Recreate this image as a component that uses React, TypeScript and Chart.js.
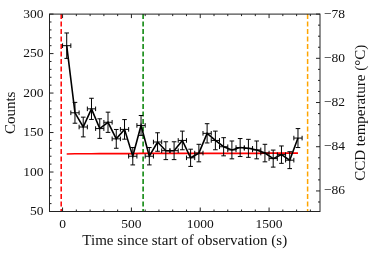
import React, { useEffect, useRef } from "react";
import { Chart, registerables } from "chart.js";
Chart.register(...registerables);

// ---- data ----
const timeBins = [30, 90, 150, 210, 270, 330, 390, 450, 510, 570, 630, 690, 750, 810, 870, 930, 990, 1050, 1110, 1170, 1230, 1290, 1350, 1410, 1470, 1530, 1590, 1650, 1710];
const counts = [260, 175, 157, 180, 155, 163, 142, 154, 120, 159, 120, 138, 127, 127, 140, 118, 124, 149, 140, 132, 128, 131, 130, 128, 124, 117, 122, 115, 143];
const countErr = [16.1, 13.2, 12.5, 13.4, 12.4, 12.8, 11.9, 12.4, 11.0, 12.6, 11.0, 11.7, 11.3, 11.3, 11.8, 10.9, 11.1, 12.2, 11.8, 11.5, 11.3, 11.4, 11.4, 11.3, 11.1, 10.8, 11.0, 10.7, 12.0];
const binHalfWidth = 30;
const temperature = [-84.33, -84.32, -84.32, -84.32, -84.31, -84.31, -84.31, -84.31, -84.31, -84.30, -84.30, -84.30, -84.30, -84.30, -84.30, -84.30, -84.30, -84.30, -84.30, -84.30, -84.30, -84.30, -84.30, -84.30, -84.29, -84.29, -84.29, -84.29, -84.29];
const markerTimes = [-10, 585, 1780];
const markerColors = ["#ff0000", "#008000", "#ffa500"];
const xMajorTicks = [0, 500, 1000, 1500];
const yMajorTicks = [50, 100, 150, 200, 250, 300];
const y1MajorTicks = [-86, -84, -82, -80, -78];
const xTitle = "Time since start of observation (s)";
const yTitle = "Counts";
const y1Title = "CCD temperature (°C)";

const FONT = "'Liberation Serif', serif";
const FS = 13.5;
const TFS = 15;
const INK = "#111";

function range(a: number, b: number, step: number) {
  const out: number[] = [];
  for (let v = a; v <= b + 1e-9; v += step) out.push(Math.round(v * 1000) / 1000);
  return out;
}

const decor = {
  id: "decor",
  beforeDatasetsDraw(chart: any) {
    const { ctx, chartArea: a, scales } = chart;
    const x = scales.x;
    ctx.save();
    ctx.lineWidth = 1.5;
    ctx.setLineDash([5, 2.5]);
    markerTimes.forEach((t, i) => {
      const px = x.getPixelForValue(t);
      ctx.strokeStyle = markerColors[i];
      ctx.beginPath();
      ctx.moveTo(px, a.top);
      ctx.lineTo(px, a.bottom);
      ctx.stroke();
    });
    ctx.restore();
  },
  afterDatasetsDraw(chart: any) {
    const { ctx, scales } = chart;
    const x = scales.x, y = scales.y;
    ctx.save();
    ctx.strokeStyle = "#000";
    ctx.lineWidth = 1;
    const cap = 2.3;
    timeBins.forEach((t, i) => {
      const px = x.getPixelForValue(t);
      const py = y.getPixelForValue(counts[i]);
      const yt = y.getPixelForValue(counts[i] + countErr[i]);
      const yb = y.getPixelForValue(counts[i] - countErr[i]);
      const xl = x.getPixelForValue(t - binHalfWidth);
      const xr = x.getPixelForValue(t + binHalfWidth);
      ctx.beginPath();
      ctx.moveTo(px, yt); ctx.lineTo(px, yb);
      ctx.moveTo(px - cap, yt); ctx.lineTo(px + cap, yt);
      ctx.moveTo(px - cap, yb); ctx.lineTo(px + cap, yb);
      ctx.moveTo(xl, py); ctx.lineTo(xr, py);
      ctx.moveTo(xl, py - cap); ctx.lineTo(xl, py + cap);
      ctx.moveTo(xr, py - cap); ctx.lineTo(xr, py + cap);
      ctx.stroke();
    });
    ctx.restore();
  },
  afterDraw(chart: any) {
    const { ctx, chartArea: a, scales } = chart;
    const x = scales.x, y = scales.y, y1 = scales.y1;
    ctx.save();
    ctx.strokeStyle = "#222";
    ctx.lineWidth = 1;
    ctx.strokeRect(a.left, a.top, a.right - a.left, a.bottom - a.top);
    const maj = 4, mn = 2;
    ctx.beginPath();
    range(0, 1800, 100).forEach((v) => {
      const px = x.getPixelForValue(v);
      if (px < a.left || px > a.right) return;
      const L = v % 500 === 0 ? maj : mn;
      ctx.moveTo(px, a.bottom); ctx.lineTo(px, a.bottom - L);
      ctx.moveTo(px, a.top); ctx.lineTo(px, a.top + L);
    });
    range(50, 300, 10).forEach((v) => {
      const py = y.getPixelForValue(v);
      const L = v % 50 === 0 ? maj : mn;
      ctx.moveTo(a.left, py); ctx.lineTo(a.left + L, py);
    });
    range(-86.5, -78, 0.5).forEach((v) => {
      const py = y1.getPixelForValue(v);
      if (py < a.top - 0.5 || py > a.bottom + 0.5) return;
      const L = Math.abs(v % 2) < 1e-6 ? maj : mn;
      ctx.moveTo(a.right, py); ctx.lineTo(a.right - L, py);
    });
    ctx.stroke();
    ctx.fillStyle = INK;
    ctx.font = `${TFS}px ${FONT}`;
    ctx.textAlign = "center";
    ctx.textBaseline = "middle";
    ctx.translate(361.5, (a.top + a.bottom) / 2);
    ctx.rotate(-Math.PI / 2);
    ctx.fillText(y1Title, 0, 0);
    ctx.restore();
  },
};

export default function App() {
  const ref = useRef<HTMLCanvasElement | null>(null);
  useEffect(() => {
    if (!ref.current) return;
    const chart = new Chart(ref.current, {
      type: "line",
      data: {
        datasets: [
          {
            label: "counts",
            data: timeBins.map((t, i) => ({ x: t, y: counts[i] })),
            borderColor: "#000",
            borderWidth: 1.6,
            pointRadius: 0,
            yAxisID: "y",
            order: 1,
          },
          {
            label: "temperature",
            data: timeBins.map((t, i) => ({ x: t, y: temperature[i] })),
            borderColor: "#ff0000",
            borderWidth: 1.6,
            pointRadius: 0,
            yAxisID: "y1",
            order: 2,
          },
        ],
      },
      options: {
        animation: false,
        responsive: false,
        devicePixelRatio: 1,
        layout: { padding: { top: 9.5, left: 0, right: 0, bottom: 0 } },
        plugins: { legend: { display: false }, tooltip: { enabled: false } },
        scales: {
          x: {
            type: "linear",
            min: -95,
            max: 1870,
            afterBuildTicks: (s: any) => { s.ticks = xMajorTicks.map((v) => ({ value: v })); },
            afterFit: (s: any) => { s.height = 42.5; },
            grid: { display: false, drawTicks: false },
            border: { display: false },
            ticks: { color: INK, font: { family: FONT, size: FS }, padding: 5, maxRotation: 0, autoSkip: false, callback: (v: any) => String(v) },
            title: { display: true, text: xTitle, color: INK, font: { family: FONT, size: TFS }, padding: { top: 0, bottom: 4 } },
          },
          y: {
            type: "linear",
            position: "left",
            min: 50,
            max: 300,
            afterBuildTicks: (s: any) => { s.ticks = yMajorTicks.map((v) => ({ value: v })); },
            afterFit: (s: any) => { s.width = 49.5; },
            grid: { display: false, drawTicks: false },
            border: { display: false },
            ticks: { color: INK, font: { family: FONT, size: FS }, padding: 6, callback: (v: any) => String(v) },
            title: { display: true, text: yTitle, color: INK, font: { family: FONT, size: TFS }, padding: { top: 2, bottom: 0 } },
          },
          y1: {
            type: "linear",
            position: "right",
            min: -86.93,
            max: -78,
            afterBuildTicks: (s: any) => { s.ticks = y1MajorTicks.map((v) => ({ value: v })); },
            afterFit: (s: any) => { s.width = 54; },
            grid: { display: false, drawTicks: false },
            border: { display: false },
            ticks: {
              color: INK,
              font: { family: FONT, size: FS },
              padding: 4,
              callback: (v: any) => (v < 0 ? "\u2212" + Math.abs(v) : String(v)),
            },
          },
        },
      },
      plugins: [decor],
    } as any);
    return () => chart.destroy();
  }, []);
  return (
    <div style={{ position: "absolute", left: 0, top: 0, width: 374, height: 254, background: "#fff" }}>
      <canvas ref={ref} width={374} height={254} style={{ width: 374, height: 254 }} />
    </div>
  );
}
